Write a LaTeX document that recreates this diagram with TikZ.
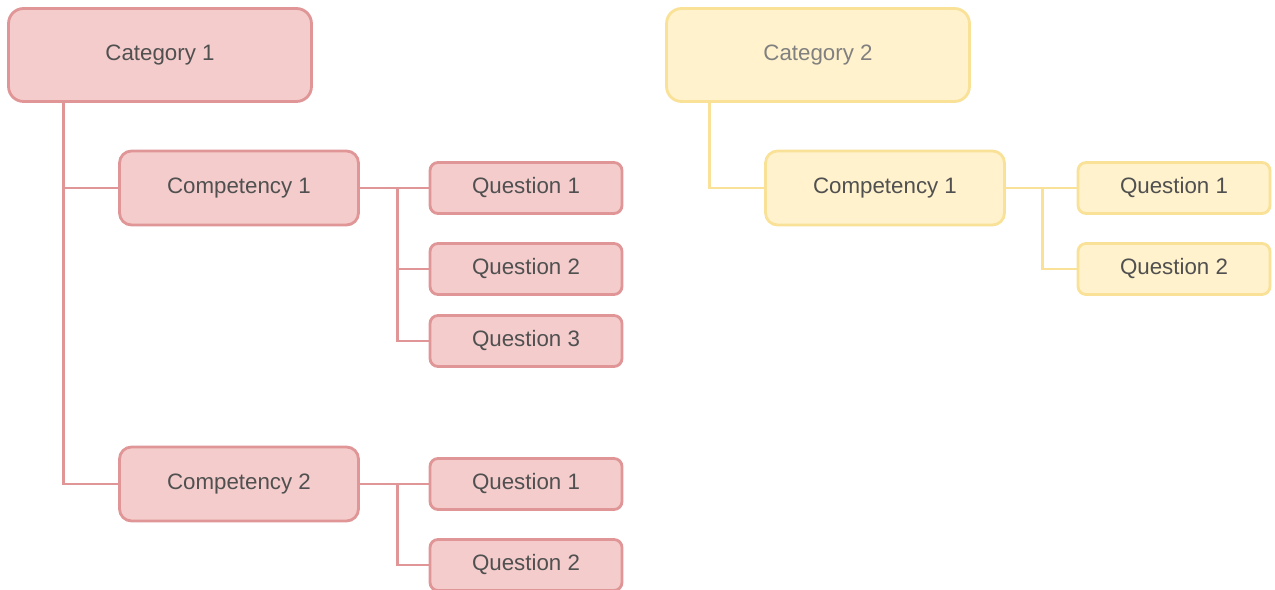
\documentclass[tikz,border=0pt]{standalone}
\usepackage{fontspec}
\setmainfont{Liberation Sans}
\usepackage{tikz}
\usetikzlibrary{positioning}
\definecolor{pfill}{RGB}{244,204,204}
\definecolor{pline}{RGB}{224,150,150}
\definecolor{yfill}{RGB}{255,242,204}
\definecolor{yline}{RGB}{249,226,152}
\definecolor{tgray}{RGB}{80,80,80}
\tikzset{box/.style = {draw, line width = 1.6pt, text = tgray,
                       font = \fontsize{12.7}{15}\selectfont}}
\tikzset{catbox/.style = {box, minimum width = 6.06cm, minimum height = 1.86cm,
                          rounded corners = 0.3cm}}
\tikzset{compbox/.style = {box, minimum width = 4.78cm, minimum height = 1.48cm,
                           rounded corners = 0.24cm}}
\tikzset{qbox/.style = {box, minimum width = 3.84cm, minimum height = 1.02cm,
                        rounded corners = 0.16cm}}
\tikzset{pink/.style = {fill = pfill, draw = pline}}
\tikzset{yellow/.style = {fill = yfill, draw = yline}}
\tikzset{link/.style = {line width = 1.6pt}}

\begin{document}
\begin{tikzpicture}[x = 0.02cm, y = -0.02cm]
  \useasboundingbox (0, 0) rectangle (1275, 590);

  % category 1
  \node [catbox, pink] (cat1) at (160, 55) {Category 1};
  \node [compbox, pink] (comp1) at (239, 188) {Competency 1};
  \node [compbox, pink] (comp2) at (239, 484) {Competency 2};
  \node [qbox, pink] (q11) at (526, 188) {Question 1};
  \node [qbox, pink] (q12) at (526, 269) {Question 2};
  \node [qbox, pink] (q13) at (526, 341) {Question 3};
  \node [qbox, pink] (q21) at (526, 484) {Question 1};
  \node [qbox, pink] (q22) at (526, 565) {Question 2};

  \begin{scope}[pline]
    \draw [link] (cat1.south west) ++(56, 0) |- (comp1.west);
    \draw [link] (cat1.south west) ++(56, 0) |- (comp2.west);
    \draw [link] (comp1.east) -- (q11.west);
    \draw [link] (comp1.east) ++(38, 0) |- (q12.west);
    \draw [link] (comp1.east) ++(38, 0) |- (q13.west);
    \draw [link] (comp2.east) -- (q21.west);
    \draw [link] (comp2.east) ++(38, 0) |- (q22.west);
  \end{scope}

  % category 2
  \node [catbox, yellow, text = gray] (cat2) at (818, 55) {Category 2};
  \node [compbox, yellow] (comp3) at (885, 188) {Competency 1};
  \node [qbox, yellow] (q31) at (1174, 188) {Question 1};
  \node [qbox, yellow] (q32) at (1174, 269) {Question 2};

  \begin{scope}[yline]
    \draw [link] (cat2.south west) ++(44, 0) |- (comp3.west);
    \draw [link] (comp3.east) -- (q31.west);
    \draw [link] (comp3.east) ++(37, 0) |- (q32.west);
  \end{scope}
\end{tikzpicture}
\end{document}
